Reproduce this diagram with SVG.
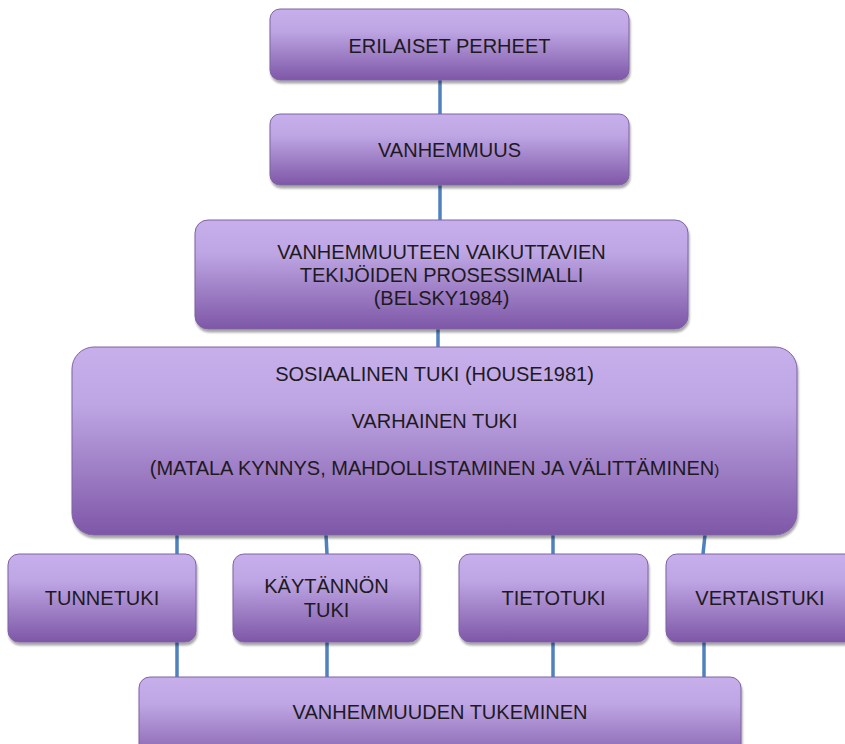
<svg xmlns="http://www.w3.org/2000/svg" width="845" height="744" viewBox="0 0 845 744">
<defs>
<linearGradient id="g" x1="0" y1="0" x2="0" y2="1">
<stop offset="0" stop-color="#c6afeb"/>
<stop offset="0.3" stop-color="#bea6e4"/>
<stop offset="1" stop-color="#7e57a7"/>
</linearGradient>
<filter id="sh" x="-5%" y="-10%" width="110%" height="130%">
<feDropShadow dx="1" dy="3" stdDeviation="1.2" flood-color="#000" flood-opacity="0.35"/>
</filter>
</defs>
<style>
.box{fill:url(#g);stroke:#7f62a3;stroke-width:1;filter:url(#sh)}
.t{font-family:"Liberation Sans",Arial,sans-serif;font-size:20px;fill:#1e1a22;text-anchor:middle}
.c{stroke:#4f81bd;stroke-width:3.5;fill:none}
</style>
<rect width="845" height="744" fill="#fff"/>
<g id="connectors">
<line class="c" x1="440" y1="80" x2="440" y2="114"/>
<line class="c" x1="440" y1="185" x2="440" y2="220"/>
<line class="c" x1="438" y1="329" x2="438" y2="347"/>
<line class="c" x1="177" y1="535" x2="177" y2="554"/>
<line class="c" x1="326" y1="535" x2="327" y2="554"/>
<line class="c" x1="553" y1="535" x2="553" y2="554"/>
<line class="c" x1="705" y1="535" x2="703" y2="554"/>
<line class="c" x1="177" y1="642" x2="177" y2="677"/>
<line class="c" x1="327" y1="642" x2="327" y2="677"/>
<line class="c" x1="553" y1="642" x2="553" y2="677"/>
<line class="c" x1="704" y1="642" x2="704" y2="677"/>
</g>
<g id="n1"><rect class="box" x="270" y="9" width="359" height="71" rx="10"/><text class="t" x="449.5" y="53">ERILAISET PERHEET</text></g>
<g id="n2"><rect class="box" x="270" y="114" width="359" height="71" rx="10"/><text class="t" x="449.5" y="157">VANHEMMUUS</text></g>
<g id="n3"><rect class="box" x="195" y="220" width="493" height="109" rx="13"/>
<text class="t" x="441.5" y="259">VANHEMMUUTEEN VAIKUTTAVIEN</text>
<text class="t" x="441.5" y="282">TEKIJÖIDEN PROSESSIMALLI</text>
<text class="t" x="441.5" y="305">(BELSKY1984)</text></g>
<g id="n4"><rect class="box" x="72" y="347" width="725" height="188" rx="22"/>
<text class="t" x="434.5" y="381">SOSIAALINEN TUKI (HOUSE1981)</text>
<text class="t" x="434.5" y="428">VARHAINEN TUKI</text>
<text class="t" x="434.5" y="475">(MATALA KYNNYS, MAHDOLLISTAMINEN JA VÄLITTÄMINEN<tspan font-size="15">)</tspan></text></g>
<g id="n5"><rect class="box" x="8" y="554" width="188" height="88" rx="11"/><text class="t" x="102" y="605">TUNNETUKI</text></g>
<g id="n6"><rect class="box" x="233" y="554" width="187" height="88" rx="11"/><text class="t" x="326.5" y="593">KÄYTÄNNÖN</text><text class="t" x="326.5" y="617">TUKI</text></g>
<g id="n7"><rect class="box" x="459" y="554" width="189" height="88" rx="11"/><text class="t" x="553.5" y="605">TIETOTUKI</text></g>
<g id="n8"><rect class="box" x="666" y="554" width="190" height="88" rx="11"/><text class="t" x="760" y="605">VERTAISTUKI</text></g>
<g id="n9"><rect class="box" x="139" y="677" width="602" height="90" rx="11"/><text class="t" x="440" y="719">VANHEMMUUDEN TUKEMINEN</text></g>
</svg>
